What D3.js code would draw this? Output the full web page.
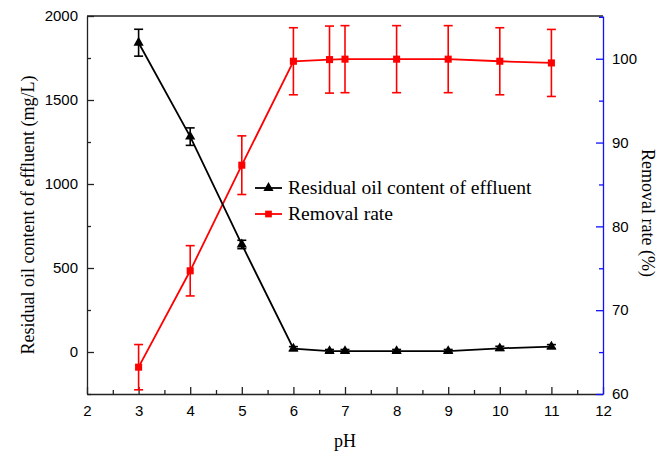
<!DOCTYPE html>
<html lang="en">
<head>
    <meta charset="UTF-8">
    <title>Residual oil vs pH</title>
    <script src="https://d3js.org/d3.v7.min.js"></script>
    <style>
        body { margin: 0; background: #fff; }
        svg { display: block; }
        .tick text { font-family: "Liberation Sans", Arial, sans-serif; font-size: 15px; fill: #000; }
        .axis path, .axis line { stroke: #222; stroke-width: 1.3px; }
        .axis-right path, .axis-right line { stroke: #1010ff; }
        .title { font-family: "Liberation Serif", "Times New Roman", serif; font-size: 18px; fill: #000; }
        .legend text { font-family: "Liberation Serif", "Times New Roman", serif; font-size: 19.6px; fill: #000; }
    </style>
</head>
<body>
    <svg id="chart"></svg>

    <script>
        // pH values (x) shared by both series
        const phValues = [3, 4, 5, 6, 6.7, 7, 8, 9, 10, 11];
        // residual oil content of effluent (mg/L) and its error
        const oilContent = [1841, 1282, 640, 20, 5, 5, 5, 5, 22, 32];
        const oilError   = [80, 52, 25, 12, 10, 10, 10, 10, 12, 12];
        // removal rate (%) and its error
        const removalRate  = [63.2, 74.7, 87.3, 99.7, 99.9, 99.95, 99.95, 99.95, 99.7, 99.5];
        const removalError = [2.7, 3.0, 3.5, 4.0, 4.0, 4.0, 4.0, 4.0, 4.0, 4.0];

        const xTicks = [2, 3, 4, 5, 6, 7, 8, 9, 10, 11, 12];
        const yLeftTicks = [0, 500, 1000, 1500, 2000];
        const yRightTicks = [60, 70, 80, 90, 100];

        const width = 668, height = 456;
        const margin = { top: 16, right: 65, bottom: 62, left: 87 };
        const svg = d3.select("#chart").attr("width", width).attr("height", height);

        const x = d3.scaleLinear().domain([2, 12]).range([margin.left, width - margin.right]);
        const yL = d3.scaleLinear().domain([-250, 2000]).range([height - margin.bottom, margin.top]);
        const yR = d3.scaleLinear().domain([60, 105.1]).range([height - margin.bottom, margin.top]);

        const x0 = margin.left, x1 = width - margin.right;
        const y0 = height - margin.bottom, y1 = margin.top;
        const fmt = d3.format("d");

        // top frame line
        svg.append("line").attr("x1", x0).attr("x2", x1).attr("y1", y1).attr("y2", y1)
            .attr("stroke", "#222").attr("stroke-width", 1.3);

        // minor ticks
        const minorX = d3.range(2.5, 12, 1);
        svg.append("g").attr("class", "axis").attr("transform", `translate(0,${y0})`)
            .call(d3.axisBottom(x).tickValues(minorX).tickSize(-4).tickFormat(""))
            .select(".domain").remove();
        svg.append("g").attr("class", "axis").attr("transform", `translate(${x0},0)`)
            .call(d3.axisLeft(yL).tickValues([-250, 250, 750, 1250, 1750]).tickSize(-4).tickFormat(""))
            .select(".domain").remove();
        svg.append("g").attr("class", "axis axis-right").attr("transform", `translate(${x1},0)`)
            .call(d3.axisRight(yR).tickValues([65, 75, 85, 95, 105]).tickSize(-4).tickFormat(""))
            .select(".domain").remove();

        // main axes
        svg.append("g").attr("class", "axis").attr("transform", `translate(0,${y0})`)
            .call(d3.axisBottom(x).tickValues(xTicks).tickFormat(fmt).tickSize(-7).tickPadding(11).tickSizeOuter(0));
        svg.append("g").attr("class", "axis").attr("transform", `translate(${x0},0)`)
            .call(d3.axisLeft(yL).tickValues(yLeftTicks).tickFormat(fmt).tickSize(-7).tickPadding(9).tickSizeOuter(0));
        svg.append("g").attr("class", "axis axis-right").attr("transform", `translate(${x1},0)`)
            .call(d3.axisRight(yR).tickValues(yRightTicks).tickFormat(fmt).tickSize(-7).tickPadding(9).tickSizeOuter(0));

        // axis titles
        svg.append("text").attr("class", "title")
            .attr("x", (x0 + x1) / 2).attr("y", 447).attr("text-anchor", "middle").text("pH");
        svg.append("text").attr("class", "title")
            .attr("transform", `translate(34,215) rotate(-90)`).attr("text-anchor", "middle")
            .text("Residual oil content of effluent (mg/L)");
        svg.append("text").attr("class", "title")
            .attr("transform", `translate(642,213) rotate(90)`).attr("text-anchor", "middle")
            .text("Removal rate (%)");

        const oilData = phValues.map((p, i) => ({ x: p, y: oilContent[i], e: oilError[i] }));
        const remData = phValues.map((p, i) => ({ x: p, y: removalRate[i], e: removalError[i] }));

        function drawSeries(data, yScale, color, symbol, size) {
            const g = svg.append("g");
            g.append("path").datum(data)
                .attr("fill", "none").attr("stroke", color).attr("stroke-width", 1.8)
                .attr("d", d3.line().x(d => x(d.x)).y(d => yScale(d.y)));
            const eb = g.selectAll(".eb").data(data).enter().append("g")
                .attr("stroke", color).attr("stroke-width", 1.6);
            eb.append("line").attr("x1", d => x(d.x)).attr("x2", d => x(d.x))
                .attr("y1", d => yScale(d.y - d.e)).attr("y2", d => yScale(d.y + d.e));
            eb.append("line").attr("x1", d => x(d.x) - 4.5).attr("x2", d => x(d.x) + 4.5)
                .attr("y1", d => yScale(d.y + d.e)).attr("y2", d => yScale(d.y + d.e));
            eb.append("line").attr("x1", d => x(d.x) - 4.5).attr("x2", d => x(d.x) + 4.5)
                .attr("y1", d => yScale(d.y - d.e)).attr("y2", d => yScale(d.y - d.e));
            g.selectAll(".mk").data(data).enter().append("path")
                .attr("transform", d => `translate(${x(d.x)},${yScale(d.y)})`)
                .attr("d", d3.symbol().type(symbol).size(size))
                .attr("fill", color);
        }

        drawSeries(remData, yR, "#ff0000", d3.symbolSquare, 50);
        drawSeries(oilData, yL, "#000000", d3.symbolTriangle, 45);

        // legend
        const legend = svg.append("g").attr("class", "legend");
        const legendItems = [
            { label: "Residual oil content of effluent", color: "#000", symbol: d3.symbolTriangle, size: 45, y: 188 },
            { label: "Removal rate", color: "#ff0000", symbol: d3.symbolSquare, size: 45, y: 214 }
        ];
        legendItems.forEach(it => {
            legend.append("line").attr("x1", 255).attr("x2", 282).attr("y1", it.y).attr("y2", it.y)
                .attr("stroke", it.color).attr("stroke-width", 1.8);
            legend.append("path").attr("transform", `translate(268.5,${it.y})`)
                .attr("d", d3.symbol().type(it.symbol).size(it.size)).attr("fill", it.color);
            legend.append("text").attr("x", 288).attr("y", it.y + 6).text(it.label);
        });
    </script>
</body>
</html>
